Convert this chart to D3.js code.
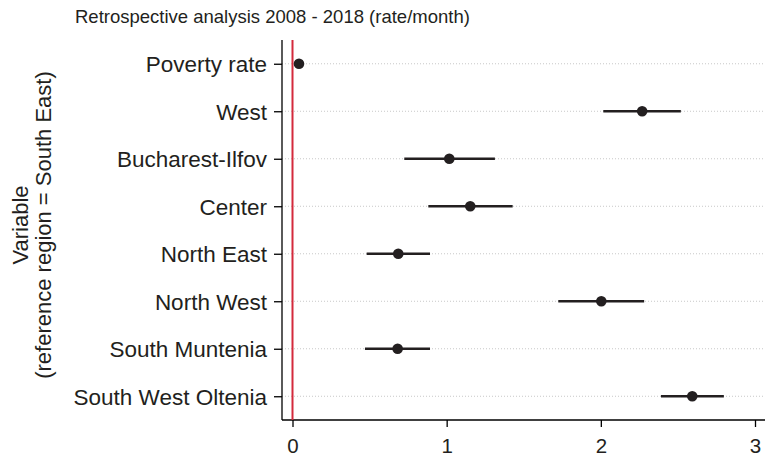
<!DOCTYPE html>
<html>
<head>
<meta charset="utf-8">
<script src="https://cdn.jsdelivr.net/npm/d3@7"></script>
<style>
  html, body { margin: 0; padding: 0; background: #fff; }
  text { font-family: "Liberation Sans", Arial, sans-serif; fill: #231f20; }
</style>
</head>
<body>
<svg id="chart" width="765" height="456"></svg>
<script>
// Coefficients (rate/month) with 95% confidence bounds, reference region = South East
const variables = ["Poverty rate", "West", "Bucharest-Ilfov", "Center", "North East",
                   "North West", "South Muntenia", "South West Oltenia"];
const estimates = [0.042, 2.268, 1.017, 1.153, 0.686, 2.003, 0.682, 2.593];
const lower     = [0.030, 2.016, 0.725, 0.881, 0.481, 1.724, 0.470, 2.390];
const upper     = [0.054, 2.519, 1.313, 1.428, 0.892, 2.281, 0.892, 2.798];
const xTicks    = [0, 1, 2, 3];

const svg = d3.select("#chart");
const m = { left: 282, right: 765, top: 40, bottom: 420 };

const x = d3.scaleLinear().domain([0, 3]).range([292.5, 755]);
const y = d3.scalePoint().domain(variables).range([m.top, m.bottom]).padding(0.5);

// horizontal dotted guide lines
svg.append("g").selectAll("line").data(variables).join("line")
  .attr("x1", m.left).attr("x2", m.right)
  .attr("y1", d => y(d)).attr("y2", d => y(d))
  .attr("stroke", "#c8c8c8").attr("stroke-width", 1)
  .attr("stroke-dasharray", "1,2");

// x axis
const xAxis = svg.append("g").attr("transform", `translate(0,${m.bottom})`)
  .call(d3.axisBottom(x).tickValues(xTicks).tickFormat(d3.format("d")).tickSizeOuter(0).tickSize(7).tickPadding(11));
xAxis.select(".domain").remove();
svg.append("line").attr("x1", m.left).attr("x2", m.right)
  .attr("y1", m.bottom).attr("y2", m.bottom).attr("stroke", "#000").attr("stroke-width", 1.3);
xAxis.selectAll(".tick line").attr("stroke", "#000").attr("stroke-width", 1.3);
xAxis.selectAll(".tick text").style("font-size", "20.5px").attr("fill", "#231f20");

// y axis
const yAxis = svg.append("g").attr("transform", `translate(${m.left},0)`)
  .call(d3.axisLeft(y).tickSize(8).tickPadding(7).tickSizeOuter(0));
yAxis.select(".domain").remove();
svg.append("line").attr("x1", m.left).attr("x2", m.left)
  .attr("y1", m.top).attr("y2", m.bottom).attr("stroke", "#000").attr("stroke-width", 1.3);
yAxis.selectAll(".tick line").attr("stroke", "#000").attr("stroke-width", 1.3);
yAxis.selectAll(".tick text").style("font-size", "22.5px").attr("dy", "0.36em").attr("fill", "#231f20");

// reference line at zero
svg.append("line").attr("x1", x(0)).attr("x2", x(0))
  .attr("y1", m.top).attr("y2", m.bottom)
  .attr("stroke", "#d42a3c").attr("stroke-width", 2);

// confidence intervals
svg.append("g").selectAll("line").data(variables).join("line")
  .attr("x1", (d, i) => x(lower[i])).attr("x2", (d, i) => x(upper[i]))
  .attr("y1", d => y(d)).attr("y2", d => y(d))
  .attr("stroke", "#231f20").attr("stroke-width", 2.6);

// point estimates
svg.append("g").selectAll("circle").data(variables).join("circle")
  .attr("cx", (d, i) => x(estimates[i])).attr("cy", d => y(d))
  .attr("r", 5.3).attr("fill", "#231f20");

// title
svg.append("text").attr("x", 75).attr("y", 23)
  .style("font-size", "18.5px").text("Retrospective analysis 2008 - 2018 (rate/month)");

// y axis title (two lines)
const yt = svg.append("text").attr("transform", "translate(28,225) rotate(-90)")
  .attr("text-anchor", "middle").style("font-size", "22px");
yt.append("tspan").attr("x", 0).attr("y", 0).text("Variable");
yt.append("tspan").attr("x", 0).attr("y", 23).text("(reference region = South East)");
</script>
</body>
</html>
